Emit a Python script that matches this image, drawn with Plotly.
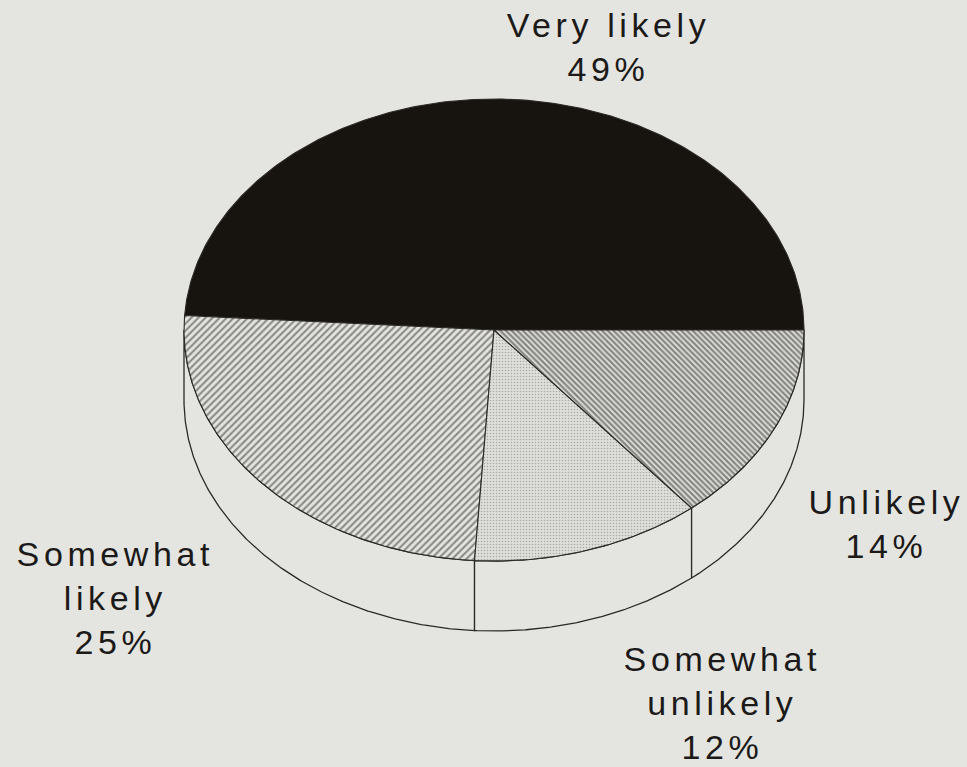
import numpy as np
import plotly.graph_objects as go

# Survey answers, listed counter-clockwise starting from the right-hand edge
categories = ["Very likely", "Somewhat likely", "Somewhat unlikely", "Unlikely"]
shares = [49, 25, 12, 14]  # percent

# Label text and where each block of label text sits (pixel space)
label_lines = [
    ["Very likely", "49%"],
    ["Somewhat", "likely", "25%"],
    ["Somewhat", "unlikely", "12%"],
    ["Unlikely", "14%"],
]
label_pos = [(608, 47), (115, 598), (722, 703), (886, 524)]

# Pie geometry in pixel space
W, H = 967, 767
CX, CY = 494, 330     # centre of the top face
RX, RY = 310, 231     # radii of the top ellipse
DEPTH = 70            # thickness of the disc
BG = "#e4e5e1"
INK = "#2b2926"

styles = {
    "Very likely": dict(fillcolor="#17130f"),
    "Somewhat likely": dict(fillcolor=BG, fillpattern=dict(
        shape="/", fgcolor="#34312e", bgcolor=BG, size=5, solidity=0.42)),
    "Somewhat unlikely": dict(fillcolor=BG, fillpattern=dict(
        shape=".", fgcolor="#77766f", bgcolor="#dedfda", size=3, solidity=0.22)),
    "Unlikely": dict(fillcolor=BG, fillpattern=dict(
        shape="\\", fgcolor="#2a2724", bgcolor=BG, size=4, solidity=0.58)),
}


def rim(t_deg, drop=0.0):
    t = np.radians(t_deg)
    return CX + RX * np.cos(t), CY - RY * np.sin(t) + drop


fig = go.Figure()

# angular extent of each slice from the shares
edges = np.concatenate([[0.0], np.cumsum(shares) / 100.0 * 360.0])

# side wall: only the front half (180..360 deg) is visible
for i, cat in enumerate(categories):
    a0, a1 = max(edges[i], 180.0), min(edges[i + 1], 360.0)
    if a1 <= a0:
        continue
    t = np.linspace(a0, a1, 200)
    xt, yt = rim(t)
    xb, yb = rim(t[::-1], DEPTH)
    fig.add_trace(go.Scatter(
        x=np.concatenate([xt, xb, xt[:1]]), y=np.concatenate([yt, yb, yt[:1]]),
        mode="lines", fill="toself", fillcolor=BG,
        line=dict(color=INK, width=1.3), hoverinfo="skip", showlegend=False))

# top face slices
for i, cat in enumerate(categories):
    t = np.linspace(edges[i], edges[i + 1], 300)
    xs, ys = rim(t)
    fig.add_trace(go.Scatter(
        x=np.concatenate([[CX], xs, [CX]]), y=np.concatenate([[CY], ys, [CY]]),
        mode="lines", fill="toself", line=dict(color=INK, width=1.1),
        name=cat, hoverinfo="name", showlegend=False, **styles[cat]))

for lines, (lx, ly) in zip(label_lines, label_pos):
    fig.add_annotation(
        x=lx, y=ly, xref="x", yref="y", text="<br>".join(lines),
        showarrow=False, xanchor="center", yanchor="middle", align="center",
        font=dict(family="Liberation Sans", size=34, color="#1c1a18"))

fig.update_layout(
    width=W, height=H, margin=dict(l=0, r=0, t=0, b=0),
    paper_bgcolor=BG, plot_bgcolor=BG,
    xaxis=dict(range=[0, W], visible=False, fixedrange=True),
    yaxis=dict(range=[H, 0], visible=False, fixedrange=True),
)

# widely tracked lettering for the labels
tracking = """
document.querySelectorAll('.annotation-text').forEach(function (el) {
    el.style.letterSpacing = '4.6px';
});
"""

fig.write_html("out.html", post_script=tracking)
